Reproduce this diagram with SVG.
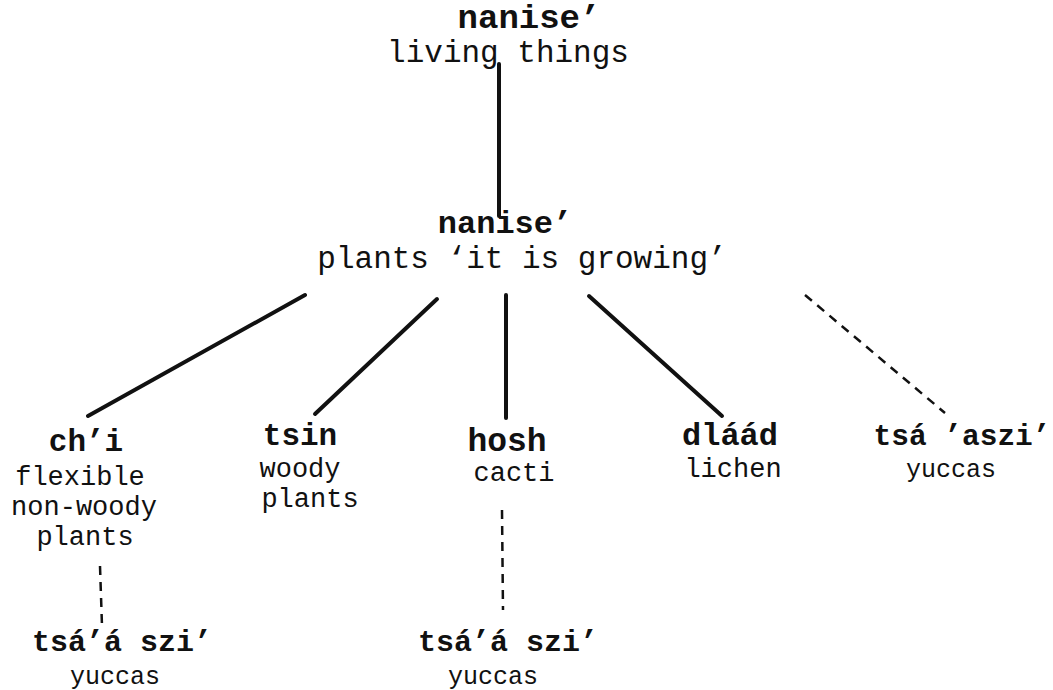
<svg xmlns="http://www.w3.org/2000/svg" width="1053" height="690" viewBox="0 0 1053 690">
  <style>
    .t { font-family: "Liberation Mono", "Courier New", monospace; fill: #111; text-anchor: middle; }
    .b { font-weight: bold; }
    .solid { stroke: #111; stroke-width: 4; stroke-linecap: round; fill: none; }
    .dash { stroke: #111; stroke-width: 2.5; stroke-dasharray: 9 7; fill: none; }
  </style>
  <rect width="1053" height="690" fill="#fff"/>

  <g id="connectors">
    <line class="solid" x1="499" y1="64" x2="499" y2="216"/>
    <line class="solid" x1="305" y1="295" x2="88" y2="416"/>
    <line class="solid" x1="437" y1="299" x2="315" y2="414"/>
    <line class="solid" x1="506" y1="295" x2="506" y2="418"/>
    <line class="solid" x1="589" y1="296" x2="722" y2="416"/>
    <line class="dash" x1="805" y1="295" x2="945" y2="413"/>
    <line class="dash" x1="100" y1="566" x2="102" y2="626"/>
    <line class="dash" x1="502" y1="510" x2="503" y2="610"/>
  </g>

  <g id="living-things">
    <text class="t b" x="529" y="28" font-size="34">nanise’</text>
    <text class="t" x="508" y="62" font-size="31">living things</text>
  </g>

  <g id="plants">
    <text class="t b" x="505" y="233" font-size="32">nanise’</text>
    <text class="t" x="522" y="268" font-size="31">plants ‘it is growing’</text>
  </g>

  <g id="chi">
    <text class="t b" x="86" y="451" font-size="31">ch’i</text>
    <text class="t" x="80" y="485" font-size="27">flexible</text>
    <text class="t" x="84" y="515" font-size="27">non-woody</text>
    <text class="t" x="85" y="545" font-size="27">plants</text>
  </g>

  <g id="tsin">
    <text class="t b" x="300" y="445" font-size="31">tsin</text>
    <text class="t" x="300" y="477" font-size="27">woody</text>
    <text class="t" x="310" y="507" font-size="27">plants</text>
  </g>

  <g id="hosh">
    <text class="t b" x="507" y="451" font-size="33">hosh</text>
    <text class="t" x="514" y="481" font-size="27">cacti</text>
  </g>

  <g id="dlaad">
    <text class="t b" x="730" y="445" font-size="32">dláád</text>
    <text class="t" x="733" y="477" font-size="27">lichen</text>
  </g>

  <g id="tsa-aszi">
    <text class="t b" x="962" y="445" font-size="29.5">tsá ’aszi’</text>
    <text class="t" x="951" y="477" font-size="25">yuccas</text>
  </g>

  <g id="tsaa-szi-left">
    <text class="t b" x="122" y="651" font-size="30">tsá’á szi’</text>
    <text class="t" x="115" y="684" font-size="25">yuccas</text>
  </g>

  <g id="tsaa-szi-right">
    <text class="t b" x="508" y="651" font-size="30">tsá’á szi’</text>
    <text class="t" x="493" y="684" font-size="25">yuccas</text>
  </g>
</svg>
